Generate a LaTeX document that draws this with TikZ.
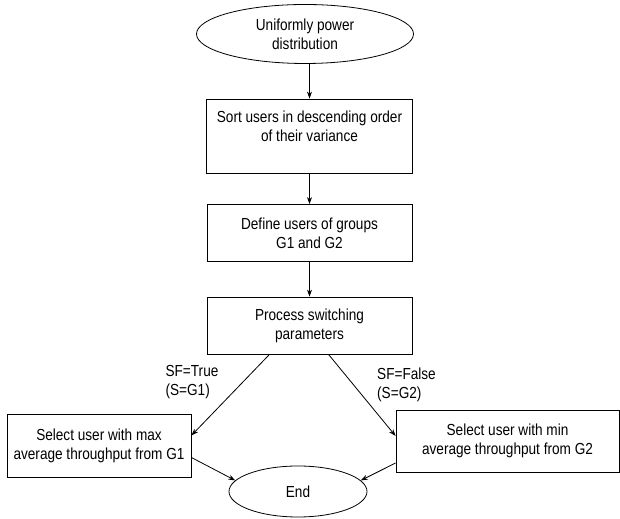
\documentclass[tikz,border=0pt]{standalone}
\usepackage{fontspec}
\setmainfont{Liberation Sans}[FakeStretch=0.85]
\usepackage{tikz}
\usetikzlibrary{calc}
\usetikzlibrary{shapes.geometric}
\usetikzlibrary{arrows.meta}
\newcommand{\widthstep}{205bp}
\newcommand{\heightstep}{57bp}
\tikzset{
    common/.style={draw, line width=0.8bp, align=center, font=\fontsize{16bp}{19bp}\selectfont},
    stepbox/.style={common, rectangle, minimum width=\widthstep, minimum height=\heightstep},
    term/.style={common, ellipse, inner sep=0pt},
    choice/.style={align=left, inner sep=0pt, font=\fontsize{16bp}{19bp}\selectfont},
    flow/.style={-{Stealth[length=7bp, width=5bp]}, line width=0.8bp}
}

\begin{document}
\begin{tikzpicture}[x=1bp, y=1bp]
    \useasboundingbox (0,0) rectangle (620,519);

    \node[term, minimum width=217bp, minimum height=59bp] (start) at (305,485) {Uniformly power\\distribution};
    \node[stepbox, minimum width=206bp, minimum height=74bp] (sort) at (309.5,383) {Sort users in descending order\\of their variance\\\mbox{}};
    \node[stepbox] (define) at (309.5,286) {Define users of groups\\G1 and G2};
    \node[stepbox] (process) at (309.5,193.5) {Process switching\\parameters};
    \node[stepbox, minimum width=184bp, minimum height=63bp] (selmax) at (99,73.5) {Select user with max\\average throughput from G1};
    \node[stepbox, minimum width=223bp, minimum height=62bp] (selmin) at (507.5,78) {Select user with min\\average throughput from G2};
    \node[term, minimum width=138bp, minimum height=51bp] (end) at (298,27.5) {End};

    % branch labels
    \node[choice] (sftrue) at (192,136.5) {SF=True\\(S=G1)};
    \node[choice] (sffalse) at (406.5,134) {SF=False\\(S=G2)};

    \draw[flow] (start.south -| sort.north) -- (sort.north);
    \draw[flow] (sort) -- (define);
    \draw[flow] (define) -- (process);
    \draw[flow] ($(process.south)+(-40,0)$) -- ($(selmax.east)+(0,10)$);
    \draw[flow] ($(process.south)+(19,0)$) -- ($(selmin.west)+(0,5)$);
    \draw[flow] ($(selmax.east)+(0,-12)$) -- (end.170);
    \draw[flow] ($(selmin.west)+(0,-22)$) -- (end.10);
\end{tikzpicture}
\end{document}
